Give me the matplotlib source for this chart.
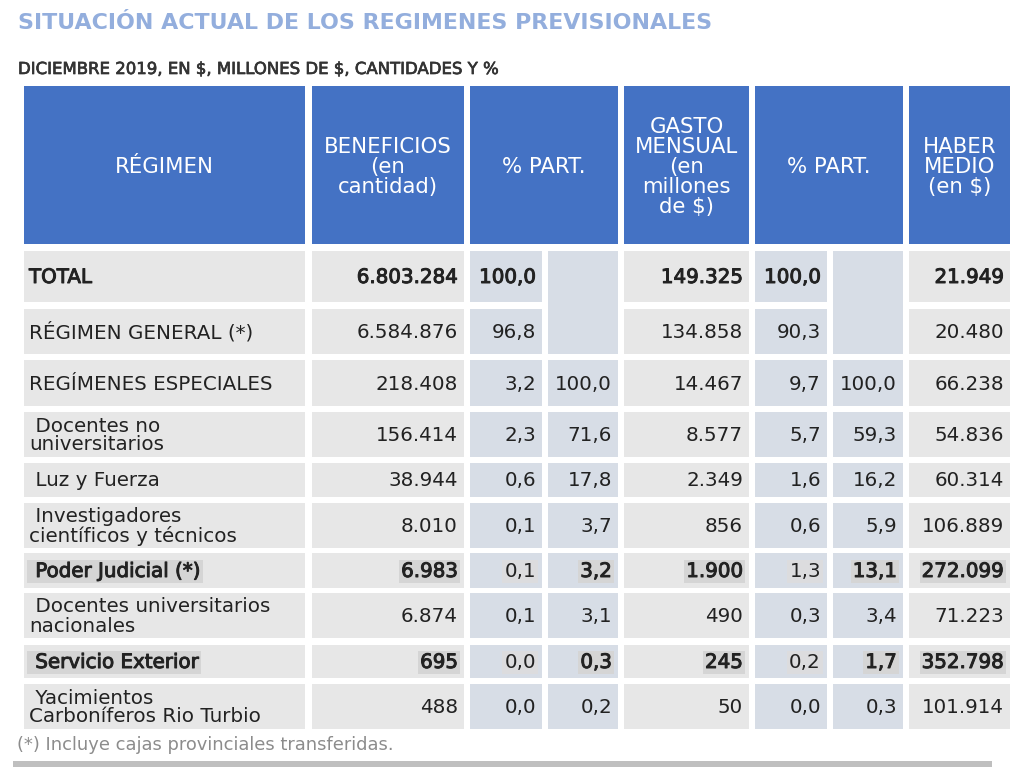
import matplotlib
matplotlib.use("Agg")
import matplotlib.pyplot as plt
from matplotlib.patches import Rectangle
import matplotlib.patheffects as pe

plt.rcParams['font.family'] = ['DejaVu Sans']
plt.rcParams['text.parse_math'] = False

# ---------------- data ----------------
title = "SITUACIÓN ACTUAL DE LOS REGIMENES PREVISIONALES"
subtitle = "DICIEMBRE 2019, EN $, MILLONES DE $, CANTIDADES Y %"
footnote = "(*) Incluye cajas provinciales transferidas."

headers = ["RÉGIMEN", "BENEFICIOS\n(en\ncantidad)", "% PART.",
           "GASTO\nMENSUAL\n(en\nmillones\nde $)", "% PART.", "HABER\nMEDIO\n(en $)"]

regimen = ["TOTAL", "RÉGIMEN GENERAL (*)", "REGÍMENES ESPECIALES",
           " Docentes no\nuniversitarios", " Luz y Fuerza",
           " Investigadores\ncientíficos y técnicos", " Poder Judicial (*)",
           " Docentes universitarios\nnacionales", " Servicio Exterior",
           " Yacimientos\nCarboníferos Rio Turbio"]
beneficios = [6803284, 6584876, 218408, 156414, 38944, 8010, 6983, 6874, 695, 488]
part_benef_total = [100.0, 96.8, 3.2, 2.3, 0.6, 0.1, 0.1, 0.1, 0.0, 0.0]
part_benef_esp = [None, None, 100.0, 71.6, 17.8, 3.7, 3.2, 3.1, 0.3, 0.2]
gasto = [149325, 134858, 14467, 8577, 2349, 856, 1900, 490, 245, 50]
part_gasto_total = [100.0, 90.3, 9.7, 5.7, 1.6, 0.6, 1.3, 0.3, 0.2, 0.0]
part_gasto_esp = [None, None, 100.0, 59.3, 16.2, 5.9, 13.1, 3.4, 1.7, 0.3]
haber_medio = [21949, 20480, 66238, 54836, 60314, 106889, 272099, 71223, 352798, 101914]

highlight_rows = [6, 8]   # Poder Judicial, Servicio Exterior

# ---------------- layout ----------------
W, H = 1024, 773
col_edges = [(24, 305), (312, 464), (470, 542), (548, 618),
             (624, 749), (755, 827), (833, 903), (909, 1010)]
header_span = [(0, 0), (1, 1), (2, 3), (4, 4), (5, 6), (7, 7)]
header_y = (86, 244)
row_edges = [(251, 302), (309, 354), (360, 406), (412, 457), (463, 497),
             (503, 548), (553, 588), (593, 638), (645, 678), (684, 729)]

BLUE = "#4472C4"
GRAY = "#E7E7E7"
BLUEGRAY = "#D7DDE6"
HL = "#D5D5D5"
HL2 = "#DCDCDE"
TXT = "#222222"
FS = 14.3
HFS = 15.3

MEDIUM = [pe.withStroke(linewidth=0.7, foreground=TXT)]

def fmt_int(v):
    return f"{v:,}".replace(",", ".")

def fmt_pct(v):
    return f"{v:.1f}".replace(".", ",")

fig = plt.figure(figsize=(W / 100, H / 100), dpi=100)
ax = fig.add_axes([0, 0, 1, 1])
ax.set_xlim(0, W)
ax.set_ylim(H, 0)
ax.axis("off")

# title / subtitle
ax.text(18, 23, title, fontsize=15.9, fontweight="bold", color="#93AEDD",
        ha="left", va="center")
ax.text(18, 69, subtitle, fontsize=11.9, color="#333333",
        ha="left", va="center",
        path_effects=[pe.withStroke(linewidth=0.5, foreground="#333333")])

# header cells
for text, (c0, c1) in zip(headers, header_span):
    x0 = col_edges[c0][0]
    x1 = col_edges[c1][1]
    ax.add_patch(Rectangle((x0, header_y[0]), x1 - x0, header_y[1] - header_y[0],
                           facecolor=BLUE, edgecolor="none"))
    ax.text((x0 + x1) / 2, (header_y[0] + header_y[1]) / 2 + 2, text,
            fontsize=HFS, color="white", ha="center", va="center",
            linespacing=1.0)

# body cells
columns = [regimen, beneficios, part_benef_total, part_benef_esp,
           gasto, part_gasto_total, part_gasto_esp, haber_medio]
fills = [GRAY, GRAY, BLUEGRAY, BLUEGRAY, GRAY, BLUEGRAY, BLUEGRAY, GRAY]
formats = [str, fmt_int, fmt_pct, fmt_pct, fmt_int, fmt_pct, fmt_pct, fmt_int]
bold_cols_hl = {0, 1, 3, 4, 6, 7}

for ci, (col, fill, fmt) in enumerate(zip(columns, fills, formats)):
    x0, x1 = col_edges[ci]
    for ri, val in enumerate(col):
        y0, y1 = row_edges[ri]
        if val is None:
            if ri == 0:
                # merged empty cell spanning first two rows
                y1m = row_edges[1][1]
                ax.add_patch(Rectangle((x0, y0), x1 - x0, y1m - y0,
                                       facecolor=fill, edgecolor="none"))
            continue
        ax.add_patch(Rectangle((x0, y0), x1 - x0, y1 - y0,
                               facecolor=fill, edgecolor="none"))
        s = fmt(val)
        effects = None
        bbox = None
        if ri == 0:
            effects = MEDIUM
        if ri in highlight_rows:
            if ci in bold_cols_hl:
                effects = MEDIUM
                bbox = dict(facecolor=HL, edgecolor="none", pad=1.5)
            else:
                bbox = dict(facecolor=HL2, edgecolor="none", pad=1.5)
        yc = (y0 + y1) / 2 + 1
        if ci == 0:
            ax.text(x0 + 5, yc, s, fontsize=FS, color=TXT, ha="left",
                    va="center", linespacing=1.0, bbox=bbox,
                    path_effects=effects)
        else:
            ax.text(x1 - 6, yc, s, fontsize=FS, color=TXT, ha="right",
                    va="center", bbox=bbox, path_effects=effects)

# footnote and bottom rule
ax.text(17, 745, footnote, fontsize=12.9, color="#8C8C8C", ha="left", va="center")
ax.add_patch(Rectangle((13, 761), 979, 6, facecolor="#BFBFBF", edgecolor="none"))

fig.savefig("out.png", dpi=100)
